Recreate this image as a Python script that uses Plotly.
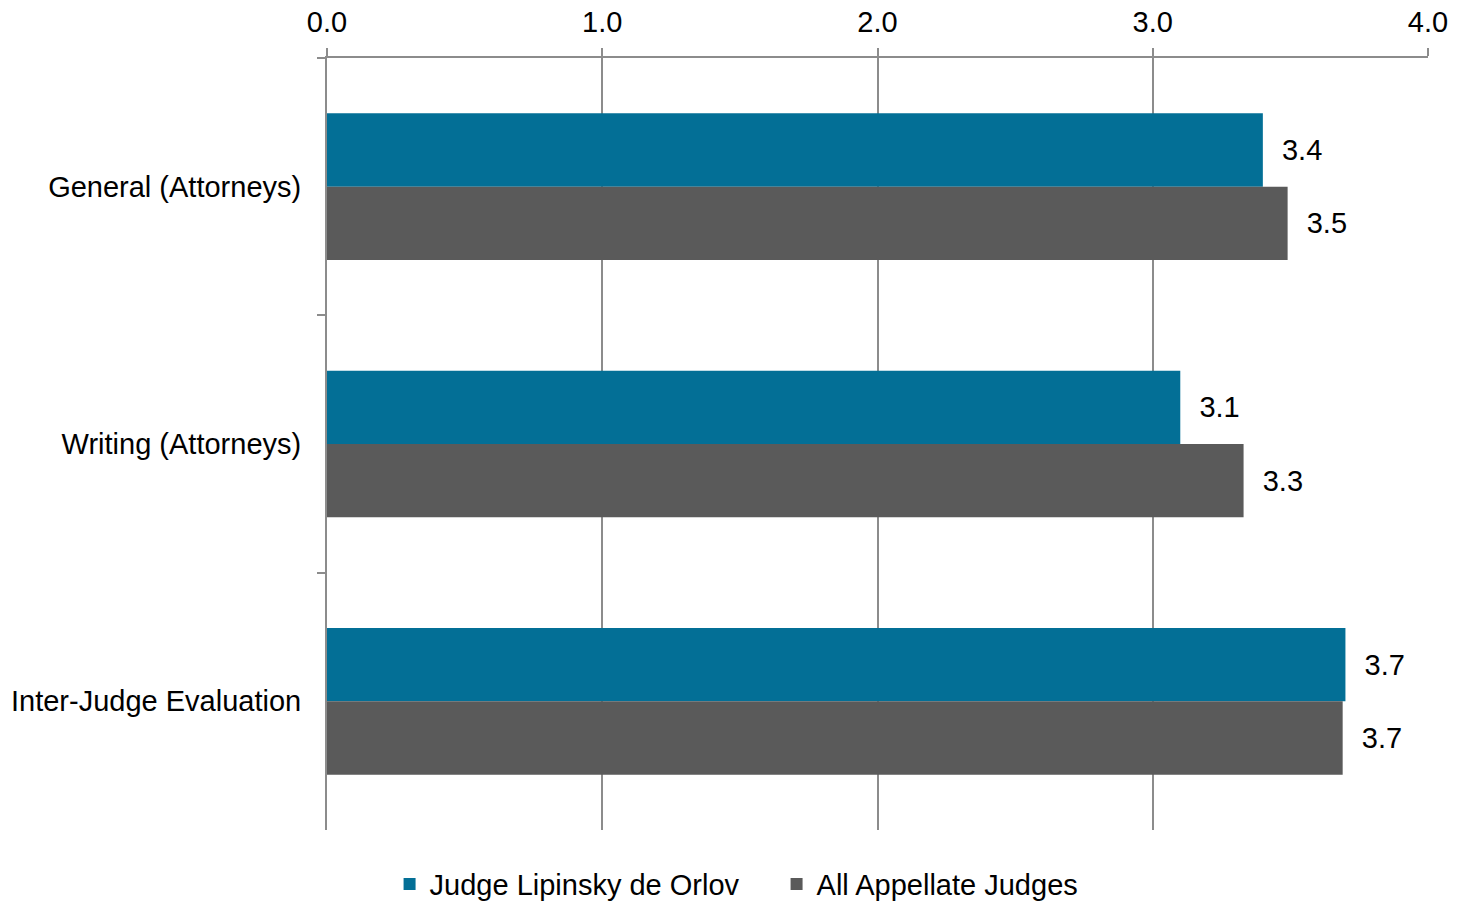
import plotly.graph_objects as go

categories = ["General (Attorneys)", "Writing (Attorneys)", "Inter-Judge Evaluation"]
judge_values = [3.40, 3.10, 3.70]
all_values = [3.49, 3.33, 3.69]
series_names = ["Judge Lipinsky de Orlov", "All Appellate Judges"]
x_ticks = [0, 1, 2, 3, 4]
x_tick_labels = ["0.0", "1.0", "2.0", "3.0", "4.0"]

FONT = "Liberation Sans, Arial, sans-serif"
GRID = "#8c8c8c"
FS = 29

fig = go.Figure()
fig.add_trace(go.Bar(
    y=categories, x=judge_values, name=series_names[0], orientation="h",
    marker=dict(color="#036f96", line=dict(width=0)),
    texttemplate="  %{x:.1f}", textposition="outside",
    textfont=dict(family=FONT, size=FS, color="#000000"), cliponaxis=False,
))
fig.add_trace(go.Bar(
    y=categories, x=all_values, name=series_names[1], orientation="h",
    marker=dict(color="#5a5a5a", line=dict(width=0)),
    texttemplate="  %{x:.1f}", textposition="outside",
    textfont=dict(family=FONT, size=FS, color="#000000"), cliponaxis=False,
))

fig.update_layout(
    width=1468, height=903,
    margin=dict(l=327, r=40, t=58, b=73, autoexpand=False),
    paper_bgcolor="white", plot_bgcolor="white",
    barmode="group", bargap=0.43, bargroupgap=0,
    font=dict(family=FONT, size=FS, color="#000000"),
    showlegend=True,
    legend=dict(orientation="h", xref="container", yref="container",
                x=0.529, xanchor="center", y=0.021, yanchor="middle",
                font=dict(family=FONT, size=FS, color="#000000"),
                entrywidth=342, entrywidthmode="pixels", tracegroupgap=0),
    xaxis=dict(side="top", range=[0, 4], tickvals=x_ticks, ticktext=x_tick_labels,
               showgrid=True, gridcolor=GRID, gridwidth=1.5,
               showline=True, linecolor=GRID, linewidth=1.5,
               ticks="outside", ticklen=8, tickcolor=GRID, tickwidth=1.5,
               zeroline=False, ticklabelstandoff=5, automargin=False,
               tickfont=dict(family=FONT, size=FS, color="#000000")),
    yaxis=dict(autorange="reversed", showgrid=False, showline=True,
               linecolor=GRID, linewidth=2, ticks="outside", tickson="boundaries",
               ticklen=8, tickcolor=GRID, tickwidth=1.5, ticklabelstandoff=18,
               automargin=False,
               tickfont=dict(family=FONT, size=FS, color="#000000")),
)

fig.write_html("out.html", config={"displayModeBar": False},
               post_script="document.body.style.margin='0';")
